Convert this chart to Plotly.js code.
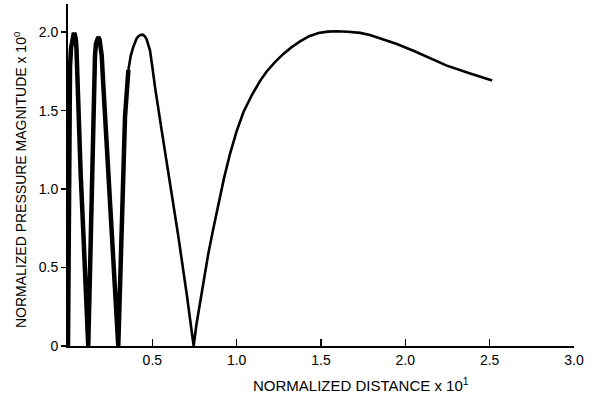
<!DOCTYPE html>
<html>
<head>
<meta charset="utf-8">
<script src="https://cdn.plot.ly/plotly-3.0.1.min.js"></script>
<style>html,body{margin:0;padding:0;background:#fff}#chart{width:595px;height:400px}</style>
</head>
<body>
<div id="chart"></div>
<script>
// Near-field part (drawn with a heavy pen)
var distanceNear = [0, 0.004, 0.008, 0.012, 0.018, 0.025, 0.033, 0.04, 0.046, 0.05, 0.055, 0.061, 0.075, 0.091, 0.105, 0.12,
  0.128, 0.135, 0.15, 0.155, 0.16, 0.166, 0.173, 0.18, 0.187, 0.193, 0.2, 0.21, 0.22, 0.24, 0.259, 0.278, 0.298,
  0.308, 0.318, 0.338, 0.358];
var pressureNear = [0, 0.8, 1.5, 1.78, 1.9, 1.96, 1.985, 1.985, 1.96, 1.9, 1.72, 1.46, 1.1, 0.72, 0.36, 0,
  0.36, 0.72, 1.46, 1.7, 1.85, 1.93, 1.965, 1.97, 1.955, 1.92, 1.85, 1.65, 1.46, 1.08, 0.72, 0.37, 0,
  0.36, 0.72, 1.46, 1.76];
// Far-field part (thin pen)
var distanceFar = [0.358, 0.372, 0.387, 0.397, 0.407, 0.418, 0.43, 0.443, 0.455, 0.466, 0.476, 0.486, 0.5, 0.516, 0.556, 0.605, 0.654, 0.704, 0.745,
  0.762, 0.783, 0.806, 0.832, 0.862, 0.892, 0.925, 0.961, 1.0, 1.04, 1.09, 1.139, 1.178, 1.227, 1.277, 1.326, 1.376, 1.43, 1.485,
  1.54, 1.594, 1.66, 1.732, 1.79, 1.85, 1.95, 2.048, 2.15, 2.246, 2.38, 2.515];
var pressureFar = [1.76, 1.85, 1.906, 1.935, 1.96, 1.975, 1.983, 1.985, 1.975, 1.955, 1.925, 1.885, 1.78, 1.65, 1.37, 1.04, 0.70, 0.33, 0,
  0.14, 0.272, 0.43, 0.59, 0.75, 0.909, 1.07, 1.227, 1.37, 1.49, 1.6, 1.69, 1.75, 1.81, 1.862, 1.905, 1.942, 1.975, 1.995,
  2.004, 2.006, 2.003, 1.996, 1.982, 1.962, 1.925, 1.882, 1.833, 1.787, 1.738, 1.692];
var xTickVals = [0.5, 1.0, 1.5, 2.0, 2.5, 3.0];
var xTickText = ['0.5', '1.0', '1.5', '2.0', '2.5', '3.0'];
var yTickVals = [0, 0.5, 1.0, 1.5, 2.0];
var yTickText = ['0', '0.5', '1.0', '1.5', '2.0'];

var FONT = 'Liberation Sans, Arial, sans-serif';
var data = [
  {x: distanceNear, y: pressureNear, type: 'scatter', mode: 'lines',
   line: {color: '#000', width: 4.5, shape: 'linear'}, hoverinfo: 'skip'},
  {x: distanceFar, y: pressureFar, type: 'scatter', mode: 'lines',
   line: {color: '#000', width: 2.6, shape: 'linear'}, hoverinfo: 'skip'}
];
var layout = {
  width: 595, height: 400,
  margin: {l: 68, r: 21, t: 4, b: 54, pad: 0},
  paper_bgcolor: '#fff', plot_bgcolor: '#fff',
  showlegend: false,
  font: {family: FONT, color: '#000', size: 14},
  xaxis: {
    range: [0, 3], showline: true, linecolor: '#000', linewidth: 2,
    showgrid: false, zeroline: false,
    ticks: 'inside', ticklen: 7, tickwidth: 1.6, tickcolor: '#000',
    tickmode: 'array', tickvals: xTickVals, ticktext: xTickText,
    tickfont: {family: FONT, size: 14, color: '#000'}
  },
  yaxis: {
    range: [0, 2.18], showline: true, linecolor: '#000', linewidth: 2,
    showgrid: false, zeroline: false,
    ticks: 'outside', ticklen: 5, tickwidth: 1.6, tickcolor: '#000',
    tickmode: 'array', tickvals: yTickVals, ticktext: yTickText,
    tickfont: {family: FONT, size: 14, color: '#000'}
  },
  annotations: [
    {text: 'NORMALIZED DISTANCE x 10<sup>1</sup>', xref: 'paper', yref: 'paper',
     x: (361 - 68) / 506, y: -(385 - 346) / 342, xanchor: 'center', yanchor: 'middle',
     showarrow: false, font: {family: FONT, size: 15, color: '#000'}},
    {text: 'NORMALIZED PRESSURE MAGNITUDE x 10<sup>0</sup>', xref: 'paper', yref: 'paper',
     x: -(68 - 20) / 506, y: (346 - 180) / 342, xanchor: 'center', yanchor: 'middle',
     textangle: -90, showarrow: false, font: {family: FONT, size: 14, color: '#000'}}
  ]
};
Plotly.newPlot('chart', data, layout, {staticPlot: true, displayModeBar: false});
</script>
</body>
</html>
